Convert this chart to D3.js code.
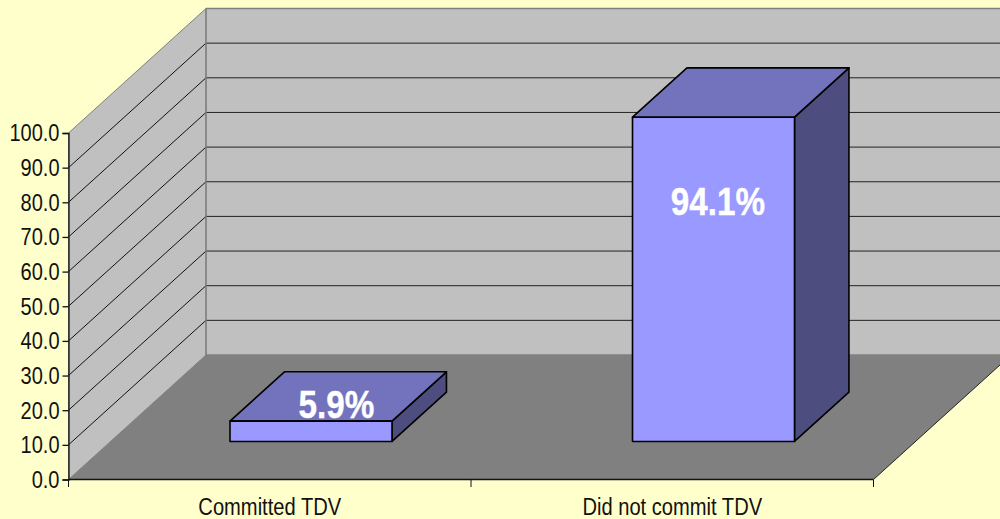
<!DOCTYPE html>
<html><head><meta charset="utf-8">
<script src="https://cdn.jsdelivr.net/npm/d3@7"></script>
<style>html,body{margin:0;padding:0;background:#FFFFCC;overflow:hidden}svg{display:block}text{font-family:"Liberation Sans",Arial,sans-serif}</style>
</head><body><svg id="c" width="1000" height="519"></svg>
<script>
const categories = ["Committed TDV", "Did not commit TDV"];
const values = [5.9, 94.1];
const valueLabels = ["5.9%", "94.1%"];
const yTicks = [0,10,20,30,40,50,60,70,80,90,100];

const svg = d3.select("#c");
const plotLeft = 68.5, plotRight = 873.5, plotBottom = 479.5, plotTop = 133;
const dx = 137.5, dy = -124.5;            // oblique projection of full depth
const x = d3.scaleBand().domain(categories).range([plotLeft, plotRight]);
const y = d3.scaleLinear().domain([0,100]).range([plotBottom, plotTop]);
const pts = a => a.map(p => p.join(",")).join(" ");
const squeeze = (sel, f) => sel.each(function(){ this.setAttribute("textLength", this.getComputedTextLength()*f); this.setAttribute("lengthAdjust","spacingAndGlyphs"); });

svg.append("rect").attr("width",1000).attr("height",519).attr("fill","#FFFFCC");

// walls
svg.append("polygon").attr("points",pts([[plotLeft+dx,y(100)+dy],[1000,y(100)+dy],[1000,plotBottom+dy],[plotLeft+dx,plotBottom+dy]])).attr("fill","#C0C0C0");
svg.append("polygon").attr("points",pts([[plotLeft,y(100)],[plotLeft+dx,y(100)+dy],[plotLeft+dx,plotBottom+dy],[plotLeft,plotBottom]])).attr("fill","#C0C0C0").attr("stroke","#808080").attr("stroke-width",1);
// floor
svg.append("polygon").attr("points",pts([[plotLeft,plotBottom],[plotRight,plotBottom],[plotRight+dx,plotBottom+dy],[plotLeft+dx,plotBottom+dy]])).attr("fill","#808080");

// gridlines
yTicks.slice(1,-1).forEach(t=>{
  svg.append("line").attr("x1",plotLeft).attr("y1",y(t)).attr("x2",plotLeft+dx).attr("y2",y(t)+dy).attr("stroke","#111").attr("stroke-width",1);
  svg.append("line").attr("x1",plotLeft+dx).attr("y1",y(t)+dy).attr("x2",1000).attr("y2",y(t)+dy).attr("stroke","#222").attr("stroke-width",1);
});
// wall borders
const bd = "#808080";
svg.append("line").attr("x1",plotLeft+dx).attr("y1",y(100)+dy).attr("x2",1000).attr("y2",y(100)+dy).attr("stroke",bd).attr("stroke-width",1.4);
svg.append("line").attr("x1",plotLeft+dx).attr("y1",y(100)+dy).attr("x2",plotLeft+dx).attr("y2",plotBottom+dy).attr("stroke",bd).attr("stroke-width",1.4);
svg.append("line").attr("x1",plotLeft+dx).attr("y1",plotBottom+dy).attr("x2",1000).attr("y2",plotBottom+dy).attr("stroke",bd).attr("stroke-width",1.4);
svg.append("line").attr("x1",plotRight).attr("y1",plotBottom).attr("x2",plotRight+dx).attr("y2",plotBottom+dy).attr("stroke","#222").attr("stroke-width",1);

// bars
const d0 = 0.308, d1 = 0.704, barW = 162, barFore = 0.9945;
categories.forEach((c,i)=>{
  const v = values[i];
  const cx = x(c) + x.bandwidth()/2 + d0*dx - 1.1;
  const xa = cx - barW/2, xb = cx + barW/2;
  const yb = plotBottom + d0*dy + 0.3, yt = yb - (y(0)-y(v))*barFore;
  const ox = (d1-d0)*dx, oy = (d1-d0)*dy;
  const g = svg.append("g").attr("stroke","#000").attr("stroke-width",1.6).attr("stroke-linejoin","round");
  g.append("polygon").attr("points",pts([[xb,yb],[xb+ox,yb+oy],[xb+ox,yt+oy],[xb,yt]])).attr("fill","#4D4D80");
  g.append("polygon").attr("points",pts([[xa,yt],[xb,yt],[xb+ox,yt+oy],[xa+ox,yt+oy]])).attr("fill","#7373BD");
  g.append("rect").attr("x",xa).attr("y",yt).attr("width",barW).attr("height",yb-yt).attr("fill","#9999FF");
});

// value labels
const labelPos = [[336.5,418],[718,215]];
svg.selectAll("text.v").data(valueLabels).join("text").attr("class","v")
  .attr("x",(d,i)=>labelPos[i][0]).attr("y",(d,i)=>labelPos[i][1])
  .attr("text-anchor","middle").attr("font-size",38).attr("font-weight","bold").attr("fill","#fff")
  .attr("stroke","#fff").attr("stroke-width",0.4)
  .text(d=>d).call(squeeze,0.875);

// axes
const gy = svg.append("g").attr("transform",`translate(${plotLeft},0)`)
  .call(d3.axisLeft(y).tickValues(yTicks).tickFormat(d3.format(".1f")).tickSize(6).tickPadding(3));
const gx = svg.append("g").attr("transform",`translate(0,${plotBottom})`)
  .call(d3.axisBottom(x).tickSize(0).tickPadding(15));
[gy,gx].forEach(g=>{ g.attr("font-family",null).attr("font-size",null);
  g.selectAll("path,line").attr("stroke","#111").attr("stroke-width",1.3);
  g.selectAll("text").attr("fill","#111").attr("font-size",23).attr("dy",null); });
gy.selectAll("text").attr("dy","0.34em").call(squeeze,0.87);
gx.select("path").attr("d",`M${plotLeft},0H${plotRight}`);
gx.selectAll("text").attr("y",35.5).call(squeeze,0.875);
// category separator ticks
[plotLeft, (plotLeft+plotRight)/2, plotRight].forEach(t=>{
  gx.append("line").attr("x1",t).attr("x2",t).attr("y1",0).attr("y2",7.5).attr("stroke","#111").attr("stroke-width",1);
});
</script></body></html>
